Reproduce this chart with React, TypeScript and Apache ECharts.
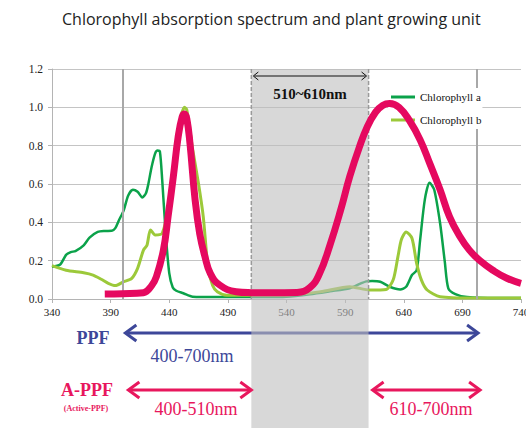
import React, { useEffect, useRef } from 'react';
import * as echarts from 'echarts';

const titleText = 'Chlorophyll absorption spectrum and plant growing unit';
const xTicks = [340, 390, 440, 490, 540, 590, 640, 690, 740];
const seriesNames = ['Chlorophyll a', 'Chlorophyll b', 'Plant growing unit'];

const chlANm = [340, 347, 352, 356, 360, 367, 372, 379, 385, 391, 394, 397, 401, 405, 409, 413, 417, 420, 422, 425, 428, 430, 432, 434, 437, 440, 443, 446, 452, 460, 480, 520, 540, 560, 577, 594, 603, 608, 613, 620, 628, 637, 642, 647, 651, 654, 658, 662, 666, 671, 675, 678, 684, 694, 720, 740];
const chlAVal = [0.168, 0.18, 0.23, 0.245, 0.25, 0.28, 0.32, 0.35, 0.355, 0.356, 0.37, 0.41, 0.46, 0.54, 0.57, 0.56, 0.53, 0.55, 0.595, 0.69, 0.76, 0.775, 0.77, 0.62, 0.34, 0.135, 0.06, 0.043, 0.03, 0.012, 0.01, 0.01, 0.012, 0.025, 0.04, 0.056, 0.08, 0.092, 0.094, 0.09, 0.064, 0.05, 0.064, 0.125, 0.15, 0.31, 0.52, 0.607, 0.57, 0.395, 0.195, 0.056, 0.026, 0.01, 0.005, 0.005];

const chlBNm = [340, 352, 367, 375, 382, 388, 394, 401, 408, 413, 418, 421, 424, 428, 434, 440, 445, 450, 453, 455, 460, 465, 469, 473, 477, 481, 489, 540, 569, 594, 611, 625, 631, 635, 638, 642, 647, 651, 655, 660, 671, 700, 740];
const chlBVal = [0.174, 0.15, 0.137, 0.125, 0.103, 0.082, 0.07, 0.09, 0.108, 0.16, 0.255, 0.28, 0.36, 0.334, 0.343, 0.5, 0.75, 0.95, 1.0, 0.986, 0.78, 0.6, 0.43, 0.168, 0.07, 0.038, 0.02, 0.02, 0.038, 0.064, 0.047, 0.05, 0.1, 0.22, 0.31, 0.35, 0.317, 0.186, 0.1, 0.047, 0.012, 0.005, 0.005];

const ledNm = [385, 400, 418, 425, 429, 435, 439, 443.5, 447.7, 451, 453, 455, 457.7, 462, 466, 470.5, 475, 483, 497, 510, 526, 549, 560, 568, 577, 586, 594, 602, 609, 616, 622, 628, 636, 645, 654, 662, 671, 679, 688, 696, 705, 716, 728, 740];
const ledVal = [0.026, 0.028, 0.033, 0.07, 0.116, 0.255, 0.43, 0.64, 0.85, 0.95, 0.965, 0.94, 0.81, 0.52, 0.34, 0.22, 0.134, 0.073, 0.038, 0.033, 0.032, 0.034, 0.06, 0.13, 0.28, 0.46, 0.64, 0.79, 0.9, 0.975, 1.01, 1.02, 1.0, 0.93, 0.83, 0.71, 0.57, 0.43, 0.325, 0.255, 0.2, 0.15, 0.108, 0.082];

const refLines = [400, 702];
const bandRange = [510, 610];
const ppfRange = [400, 700];

const zip = (a: number[], b: number[]) => a.map((v, i) => [v, b[i]]);

const BLUE = '#3d4799';
const PINK = '#e8175d';
const SERIF = 'Liberation Serif';

export default function App() {
  const ref = useRef<HTMLDivElement>(null);
  useEffect(() => {
    document.body.style.margin = '0';
    const chart = echarts.init(ref.current!, undefined, { renderer: 'svg' });
    const option: any = {
      animation: false,
      textStyle: { fontFamily: SERIF },
      title: {
        text: titleText,
        left: 57,
        top: 6,
        textStyle: { fontFamily: 'Open Sans', fontSize: 16, fontWeight: 'normal', color: '#222' },
      },
      grid: { left: 52, right: 5, top: 69, bottom: 129, outerBoundsMode: 'none', containLabel: false },
      legend: {
        data: [seriesNames[0], seriesNames[1]],
        orient: 'vertical',
        left: 388,
        top: 88,
        icon: 'rect',
        itemWidth: 24,
        itemHeight: 3,
        itemGap: 9,
        padding: [2, 1, 2, 3],
        backgroundColor: '#fff',
        z: 7,
        textStyle: { fontFamily: SERIF, fontSize: 11, color: '#111', lineHeight: 14 },
      },
      xAxis: {
        type: 'value',
        min: 340,
        max: 740,
        axisLine: { show: true, lineStyle: { color: '#b4b4b4', width: 1 } },
        axisTick: { show: true, customValues: xTicks, length: 4, lineStyle: { color: '#b4b4b4' } },
        axisLabel: { customValues: xTicks, margin: 7, fontFamily: SERIF, fontSize: 11, color: '#222' },
        splitLine: { show: false },
      },
      yAxis: {
        type: 'value',
        min: 0,
        max: 1.2,
        interval: 0.2,
        axisLine: { show: true, lineStyle: { color: '#b4b4b4', width: 1 } },
        axisTick: { show: true, length: 4, lineStyle: { color: '#b4b4b4' } },
        axisLabel: { formatter: (v: number) => v.toFixed(1), margin: 9, fontFamily: SERIF, fontSize: 11.5, color: '#222' },
        splitLine: { show: true, lineStyle: { color: '#c4c4c4', width: 1 } },
      },
      series: [
        {
          name: seriesNames[0],
          type: 'line',
          data: zip(chlANm, chlAVal),
          showSymbol: false,
          symbol: 'none',
          smooth: 0.25,
          z: 2,
          lineStyle: { color: '#0ba24a', width: 2.5 },
          itemStyle: { color: '#0ba24a' },
          markLine: {
            silent: true,
            symbol: 'none',
            label: { show: false },
            lineStyle: { color: '#a8a8a8', width: 2, type: 'solid' },
            data: refLines.map((v) => ({ xAxis: v })),
          },
        },
        {
          name: seriesNames[1],
          type: 'line',
          data: zip(chlBNm, chlBVal),
          showSymbol: false,
          symbol: 'none',
          smooth: 0.25,
          z: 2,
          lineStyle: { color: '#9cc93a', width: 3 },
          itemStyle: { color: '#9cc93a' },
        },
        {
          name: seriesNames[2],
          type: 'line',
          data: zip(ledNm, ledVal),
          showSymbol: false,
          symbol: 'none',
          smooth: 0.45,
          z: 8,
          lineStyle: { color: '#e5095f', width: 7 },
          itemStyle: { color: '#e5095f' },
        },
      ],
    };
    chart.setOption(option);

    const px = (v: number) => chart.convertToPixel({ xAxisIndex: 0 } as any, v) as number;
    const py = (v: number) => chart.convertToPixel({ yAxisIndex: 0 } as any, v) as number;
    const xb0 = px(bandRange[0]);
    const xb1 = px(bandRange[1]);
    const xp0 = px(ppfRange[0]);
    const xp1 = px(ppfRange[1]);
    const yTop = py(1.2);
    const yBot = py(0);

    const arrow = (x0: number, x1: number, y: number, color: string, w: number, ax: number, ay: number, z: number) => [
      { type: 'line', z, shape: { x1: x0 + 1, y1: y, x2: x1 - 1, y2: y }, style: { stroke: color, lineWidth: w } },
      { type: 'polyline', z, shape: { points: [[x0 + ax, y - ay], [x0, y], [x0 + ax, y + ay]] }, style: { stroke: color, lineWidth: w, fill: null } },
      { type: 'polyline', z, shape: { points: [[x1 - ax, y - ay], [x1, y], [x1 - ax, y + ay]] }, style: { stroke: color, lineWidth: w, fill: null } },
    ];

    const text = (t: string, x: number, y: number, size: number, color: string, bold: boolean, z = 10) => ({
      type: 'text',
      z,
      x,
      y,
      style: { text: t, fill: color, fontFamily: SERIF, fontSize: size, fontWeight: bold ? 'bold' : 'normal', align: 'center', verticalAlign: 'middle' },
    });

    const graphic: any[] = [
      { type: 'rect', z: 3, shape: { x: xb0, y: yTop, width: xb1 - xb0, height: 428 - yTop }, style: { fill: 'rgba(190,190,190,0.6)' } },
      { type: 'line', z: 6, shape: { x1: xb0, y1: yTop, x2: xb0, y2: yBot }, style: { stroke: '#9a9a9a', lineWidth: 1.5, lineDash: [4, 2] } },
      { type: 'line', z: 6, shape: { x1: xb1, y1: yTop, x2: xb1, y2: yBot }, style: { stroke: '#9a9a9a', lineWidth: 1.5, lineDash: [4, 2] } },
      ...arrow(xb0 + 2, xb1 - 2, yTop + 7, '#111', 1, 5, 4, 6),
      text('510~610nm', (xb0 + xb1) / 2, yTop + 25, 15, '#111', true, 6),
      ...arrow(xp0 + 3, xp1 + 4, 333, BLUE, 3, 11, 8, 2),
      text('PPF', 93, 338, 18, BLUE, true),
      text('400-700nm', 192, 356, 18, BLUE, false),
      text('A-PPF', 87, 390, 18, PINK, true),
      text('(Active-PPF)', 86, 408, 8, PINK, true),
      ...arrow(xp0 + 6, xb0, 390, PINK, 3, 11, 8, 6),
      ...arrow(xb1 + 4, xp1 + 6, 390, PINK, 3, 11, 8, 6),
      text('400-510nm', 196, 409, 18, PINK, false),
      text('610-700nm', 431, 409, 18, PINK, false),
    ];
    chart.setOption({ graphic });

    return () => chart.dispose();
  }, []);
  return <div ref={ref} style={{ width: 526, height: 428, position: 'absolute', left: 0, top: 0 }} />;
}
